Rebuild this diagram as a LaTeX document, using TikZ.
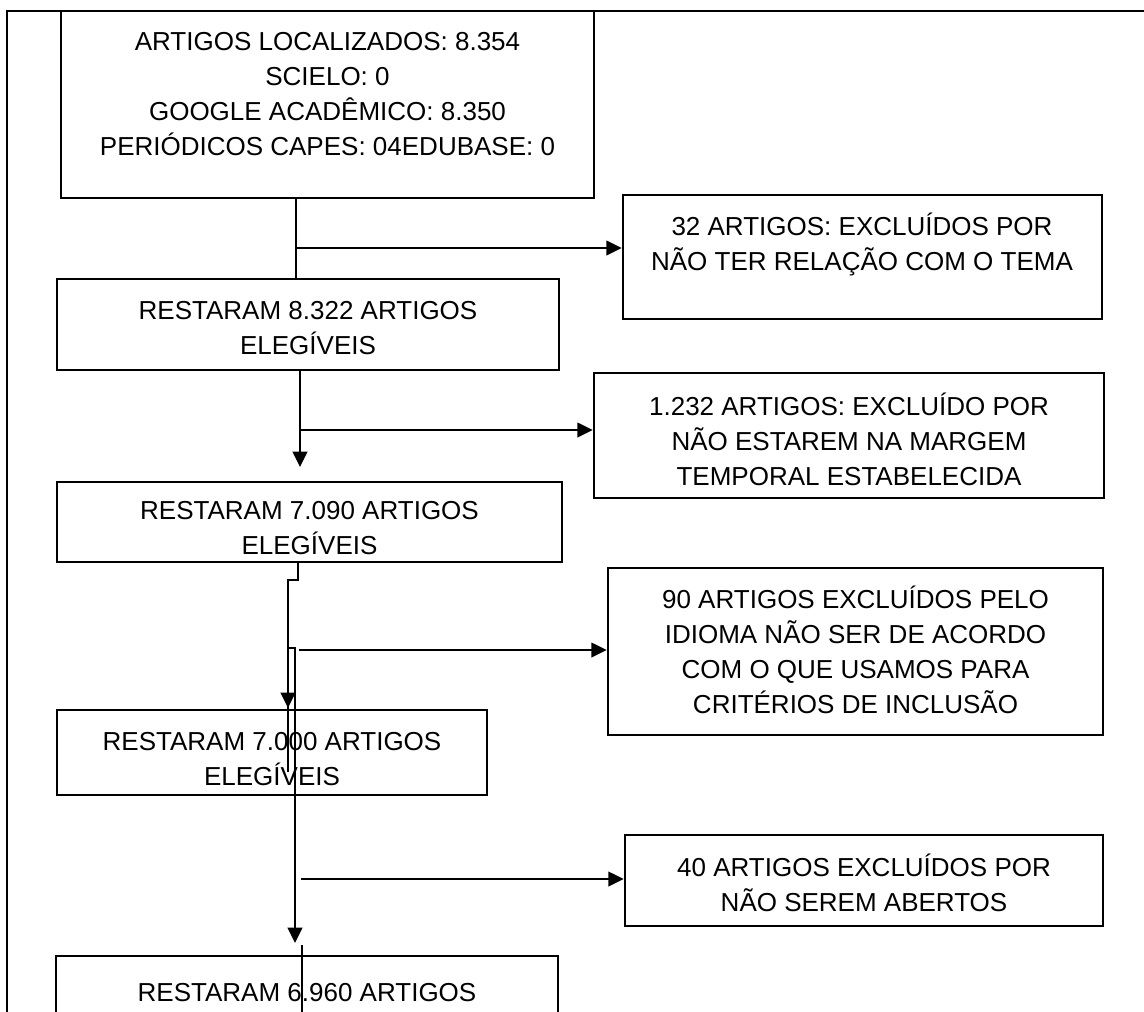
\documentclass[tikz,border=0pt]{standalone}
\usepackage{fontspec}
\setmainfont{Liberation Sans}
\usetikzlibrary{arrows.meta}
\begin{document}
\begin{tikzpicture}[x=0.75pt,y=-0.75pt,
  box/.style={draw=black, line width=1.9pt, inner sep=0pt},
  txt/.style={align=center, inner sep=0pt, font=\fontsize{19.5pt}{26.25pt}\selectfont},
  conn/.style={line width=1.5pt},
  branch/.style={line width=1.2pt},
  frame/.style={line width=1.6pt},
  tip/.style={-{Triangle[length=11.5pt,width=11pt]}},
]
\useasboundingbox (0,0) rectangle (1144,1011);
\clip (0,0) rectangle (1144,1011);
\fill[white] (0,0) rectangle (1144,1011);

% frame
\coordinate (f1) at (7,1020);
\coordinate (f2) at (7,11);
\coordinate (f3) at (1150,11);
\draw[frame] (f1) -- (f2) -- (f3);

% boxes
\node[box, minimum width=533*0.75pt, minimum height=187*0.75pt] (b1) at (327.5,104.5) {};
\node[box, minimum width=479*0.75pt, minimum height=124*0.75pt] (x1) at (862.5,257) {};
\node[box, minimum width=502*0.75pt, minimum height=91*0.75pt] (r1) at (308,324.5) {};
\node[box, minimum width=510*0.75pt, minimum height=125*0.75pt] (x2) at (849,435.5) {};
\node[box, minimum width=505*0.75pt, minimum height=80*0.75pt] (r2) at (309.5,522) {};
\node[box, minimum width=495*0.75pt, minimum height=167*0.75pt] (x3) at (855.5,651.5) {};
\node[box, minimum width=430*0.75pt, minimum height=85*0.75pt] (r3) at (272,752.5) {};
\node[box, minimum width=478*0.75pt, minimum height=91*0.75pt] (x4) at (864,880.5) {};
\node[box, minimum width=502*0.75pt, minimum height=90*0.75pt] (r4) at (307,1001) {};

% texts
\node[txt] (t1) at (327.5,94) {ARTIGOS LOCALIZADOS: 8.354\\SCIELO: 0\\GOOGLE ACADÊMICO: 8.350\\PERIÓDICOS CAPES: 04EDUBASE: 0};
\node[txt] (t2) at (862,244) {32 ARTIGOS: EXCLUÍDOS POR\\NÃO TER RELAÇÃO COM O TEMA};
\node[txt] (t3) at (308,328.5) {RESTARAM 8.322 ARTIGOS\\ELEGÍVEIS};
\node[txt] (t4) at (849,439) {1.232 ARTIGOS: EXCLUÍDO POR\\NÃO ESTAREM NA MARGEM\\TEMPORAL ESTABELECIDA};
\node[txt] (t5) at (309.5,528.5) {RESTARAM 7.090 ARTIGOS\\ELEGÍVEIS};
\node[txt] (t6) at (855.5,650) {90 ARTIGOS EXCLUÍDOS PELO\\IDIOMA NÃO SER DE ACORDO\\COM O QUE USAMOS PARA\\CRITÉRIOS DE INCLUSÃO};
\node[txt] (t7) at (272,759) {RESTARAM 7.000 ARTIGOS\\ELEGÍVEIS};
\node[txt] (t8) at (864,882.5) {40 ARTIGOS EXCLUÍDOS POR\\NÃO SEREM ABERTOS};
\node[txt] (t9) at (307,993) {RESTARAM 6.960 ARTIGOS};

% connectors
\coordinate (j1) at (296,248);
\draw[conn] (j1 |- b1.south) -- (j1 |- r1.north);
\draw[branch,tip] (j1) -- (j1 -| x1.west);

\coordinate (j2) at (300,430);
\coordinate (e2) at (300,467);
\draw[conn,tip] (j2 |- r1.south) -- (e2);
\draw[branch,tip] (j2) -- (j2 -| x2.west);

\coordinate (k3) at (298,580);
\coordinate (e3) at (288,708);
\draw[conn,tip] (k3 |- r2.south) -- (k3) -- (k3 -| e3) -- (e3);

\coordinate (n1) at (288,772);
\coordinate (n2) at (295,648);
\coordinate (e4) at (295,943);
\draw[conn,tip] (n1) -- (n1 |- n2) -- (n2) -- (e4);

\coordinate (j3) at (299,650);
\draw[branch,tip] (j3) -- (j3 -| x3.west);

\coordinate (j4) at (301,879);
\draw[branch,tip] (j4) -- (j4 -| x4.west);

\coordinate (m1) at (302,945);
\coordinate (m2) at (302,1020);
\draw[conn] (m1) -- (m2);
\end{tikzpicture}
\end{document}
